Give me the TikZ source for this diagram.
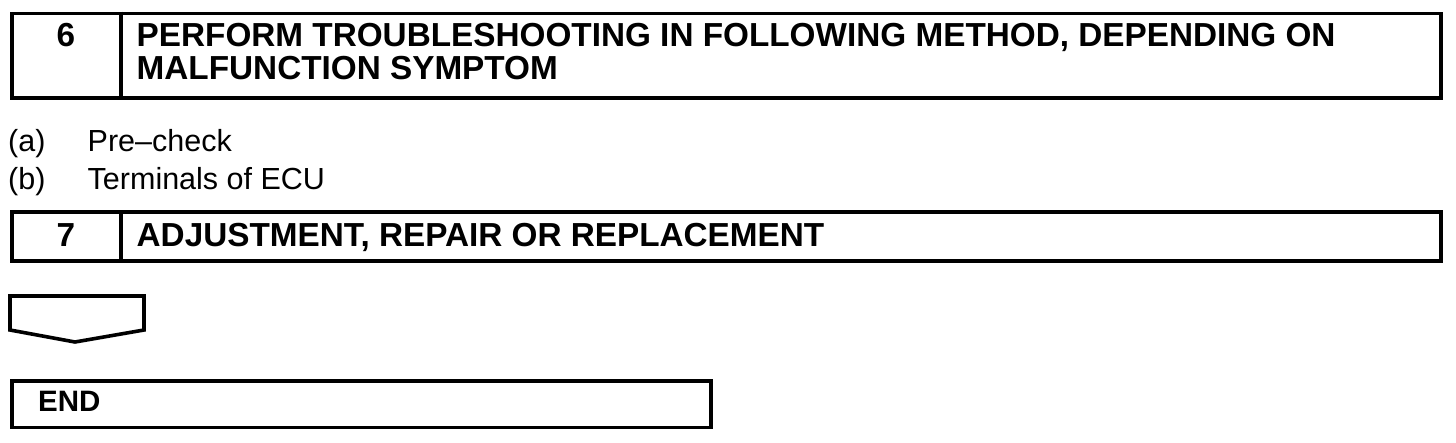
\documentclass[tikz,border=0pt]{standalone}
\usepackage{fontspec}
\setmainfont{Liberation Sans}
\begin{document}
\begin{tikzpicture}[x=1pt,y=-1pt,
  frame/.style={draw=black,line width=3.6pt,line join=miter,fill=none},
  hd/.style={inner sep=0pt,anchor=base west,font=\fontsize{33.3}{36}\selectfont\bfseries},
  num/.style={inner sep=0pt,anchor=base,font=\fontsize{33.3}{36}\selectfont\bfseries},
  tx/.style={inner sep=0pt,anchor=base west,font=\fontsize{30.5}{34}\selectfont}]
\useasboundingbox (0,0) rectangle (1456,442);
% step 6 box
\node[frame,anchor=north west,minimum width=1429pt,minimum height=84.5pt,inner sep=0pt] (b6) at (10,11.5) {};
\coordinate (d6t) at (121,11.5);
\coordinate (d6b) at (121,96);
\draw[frame] (d6t) -- (d6b);
\node[num] (n6) at (66,46) {6};
\node[hd] (h6a) at (136.5,46) {PERFORM TROUBLESHOOTING IN FOLLOWING METHOD, DEPENDING ON};
\node[hd] (h6b) at (136.5,79) {MALFUNCTION SYMPTOM};
% items
\node[tx] (la) at (8,151) {(a)};
\node[tx] (ta) at (87.5,151) {Pre–check};
\node[tx] (lb) at (8,189) {(b)};
\node[tx] (tb) at (87.5,189) {Terminals of ECU};
% step 7 box
\node[frame,anchor=north west,minimum width=1429pt,minimum height=49pt,inner sep=0pt] (b7) at (10,210) {};
\coordinate (d7t) at (121,210);
\coordinate (d7b) at (121,259);
\draw[frame] (d7t) -- (d7b);
\node[num] (n7) at (66,246) {7};
\node[hd] (h7) at (136.5,246) {ADJUSTMENT, REPAIR OR REPLACEMENT};
% down arrow shape
\coordinate (a1) at (10,296);
\coordinate (a2) at (144,296);
\coordinate (a3) at (144,330);
\coordinate (a4) at (75,342);
\coordinate (a5) at (10,330);
\draw[frame] (a1) -- (a2) -- (a3) -- (a4) -- (a5) -- cycle;
% end box
\node[frame,anchor=north west,minimum width=699pt,minimum height=46.5pt,inner sep=0pt] (be) at (10,379) {};
\node[inner sep=0pt,anchor=base west,font=\fontsize{29.5}{33}\selectfont\bfseries] (te) at (38,411) {END};
\end{tikzpicture}
\end{document}
